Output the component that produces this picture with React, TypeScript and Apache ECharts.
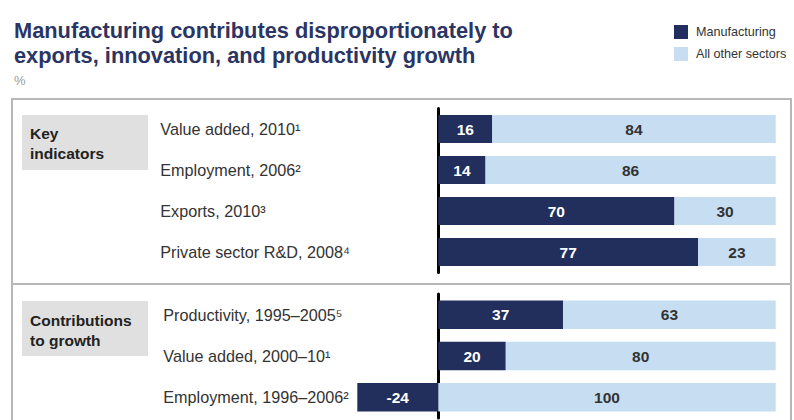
import React, { useEffect, useRef } from "react";
import * as echarts from "echarts";

const keyCategories = [
  "Value added, 2010¹",
  "Employment, 2006²",
  "Exports, 2010³",
  "Private sector R&D, 2008⁴",
];
const keyManufacturing = [16, 14, 70, 77];
const keyOther = [84, 86, 30, 23];

const growthCategories = [
  "Productivity, 1995–2005⁵",
  "Value added, 2000–10¹",
  "Employment, 1996–2006²",
];
const growthManufacturing = [37, 20, -24];
const growthOther = [63, 80, 100];

const seriesNames = ["Manufacturing", "All other sectors"];
const panelTitles = ["Key\nindicators", "Contributions\nto growth"];
const titleText = "Manufacturing contributes disproportionately to\nexports, innovation, and productivity growth";
const unitText = "%";

const NAVY = "#222f5c";
const LIGHT = "#c6ddf2";
const FONT = '"Liberation Sans", Arial, Helvetica, sans-serif';

export default function App() {
  const ref = useRef<HTMLDivElement>(null);

  useEffect(() => {
    if (!ref.current) return;
    const chart = echarts.init(ref.current, undefined, { renderer: "svg" });

    const xAxisBase = (gridIndex: number) => ({
      type: "value",
      gridIndex,
      min: -24,
      max: 100,
      axisLine: { show: false },
      axisTick: { show: false },
      axisLabel: { show: false },
      splitLine: { show: false },
    });

    const yAxisBase = (gridIndex: number, data: string[], margin: number) => ({
      type: "category",
      gridIndex,
      data,
      inverse: true,
      axisLine: { show: true, onZero: true, lineStyle: { color: "#000", width: 3 } },
      axisTick: { show: false },
      splitLine: { show: false },
      axisLabel: {
        margin,
        align: "left",
        fontSize: 16.2,
        color: "#333",
        fontFamily: FONT,
      },
    });

    const darkLabel = {
      show: true,
      position: "inside",
      color: "#fff",
      fontWeight: "bold",
      fontSize: 15.5,
      fontFamily: FONT,
    };
    const lightLabel = {
      show: true,
      position: "inside",
      color: "#333",
      fontWeight: "bold",
      fontSize: 15.5,
      fontFamily: FONT,
    };

    chart.setOption({
      animation: false,
      backgroundColor: "#fff",
      title: {
        text: titleText,
        subtext: unitText,
        left: 9,
        top: 13,
        itemGap: 4,
        textStyle: {
          fontSize: 21.8,
          lineHeight: 25,
          fontWeight: "bold",
          color: "#2b3564",
          fontFamily: FONT,
        },
        subtextStyle: {
          fontSize: 13,
          lineHeight: 16,
          color: "#9a9a9a",
          fontFamily: FONT,
        },
      },
      legend: {
        data: seriesNames,
        orient: "vertical",
        left: 669,
        top: 20,
        itemWidth: 14,
        itemHeight: 14,
        itemGap: 8,
        icon: "rect",
        textStyle: {
          fontSize: 12.6,
          color: "#333",
          fontFamily: FONT,
          padding: [0, 0, 0, 3],
        },
      },
      graphic: [
        {
          type: "rect",
          z: 0,
          shape: { x: 12, y: 99, width: 779, height: 340 },
          style: { fill: "none", stroke: "#b8b8b8", lineWidth: 2 },
        },
        {
          type: "line",
          z: 0,
          shape: { x1: 12, y1: 284, x2: 791, y2: 284 },
          style: { stroke: "#b8b8b8", lineWidth: 2 },
        },
        {
          type: "rect",
          z: 0,
          shape: { x: 22, y: 115, width: 126, height: 55 },
          style: { fill: "#e0e0e0" },
        },
        {
          type: "rect",
          z: 0,
          shape: { x: 22, y: 301, width: 126, height: 55 },
          style: { fill: "#e0e0e0" },
        },
        {
          type: "text",
          x: 30,
          y: 123,
          style: {
            text: panelTitles[0],
            fill: "#222",
            font: `bold 15.5px ${FONT}`,
            lineHeight: 20,
            verticalAlign: "top",
          },
        },
        {
          type: "text",
          x: 30,
          y: 310,
          style: {
            text: panelTitles[1],
            fill: "#222",
            font: `bold 15.5px ${FONT}`,
            lineHeight: 20,
            verticalAlign: "top",
          },
        },
      ],
      grid: [
        { left: 357.3, right: 18.3, top: 108.5, height: 164 },
        { left: 357.3, right: 18.3, top: 294, height: 124 },
      ],
      xAxis: [xAxisBase(0), xAxisBase(1)],
      yAxis: [yAxisBase(0, keyCategories, 197), yAxisBase(1, growthCategories, 194)],
      series: [
        {
          name: seriesNames[0],
          type: "bar",
          xAxisIndex: 0,
          yAxisIndex: 0,
          stack: "key",
          barWidth: 28,
          itemStyle: { color: NAVY },
          label: darkLabel,
          data: keyManufacturing,
        },
        {
          name: seriesNames[1],
          type: "bar",
          xAxisIndex: 0,
          yAxisIndex: 0,
          stack: "key",
          barWidth: 28,
          itemStyle: { color: LIGHT },
          label: lightLabel,
          data: keyOther,
        },
        {
          name: seriesNames[0],
          type: "bar",
          xAxisIndex: 1,
          yAxisIndex: 1,
          stack: "growth",
          barWidth: 28.5,
          itemStyle: { color: NAVY },
          label: darkLabel,
          data: growthManufacturing,
        },
        {
          name: seriesNames[1],
          type: "bar",
          xAxisIndex: 1,
          yAxisIndex: 1,
          stack: "growth",
          barWidth: 28.5,
          itemStyle: { color: LIGHT },
          label: lightLabel,
          data: growthOther,
        },
      ],
    });

    return () => chart.dispose();
  }, []);

  return (
    <div
      ref={ref}
      style={{ position: "fixed", left: 0, top: 0, width: 794, height: 420 }}
    />
  );
}
